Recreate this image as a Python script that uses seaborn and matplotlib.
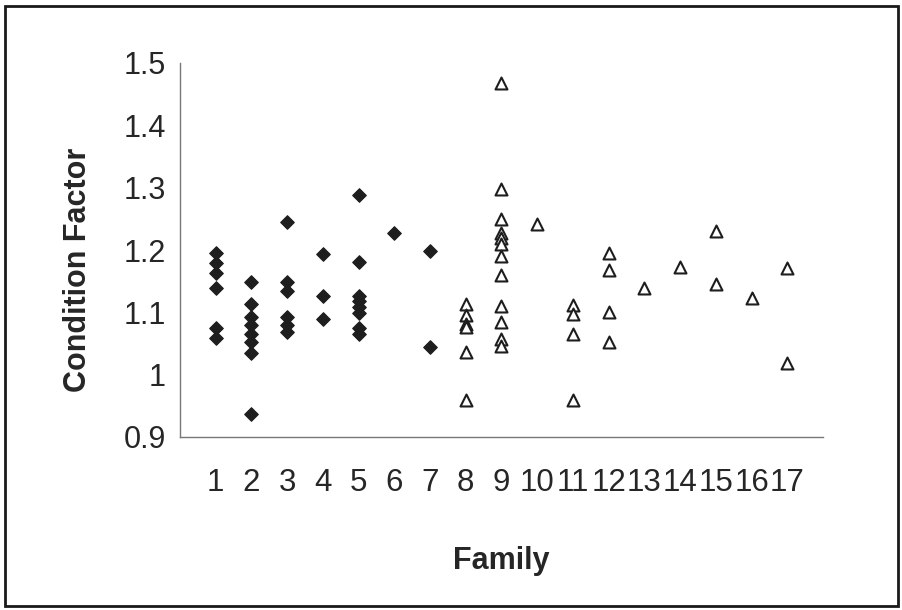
import matplotlib
matplotlib.use('Agg')
import matplotlib.pyplot as plt
import pandas as pd
import seaborn as sns
from matplotlib.patches import Rectangle

# condition factor per family
diamond_families = [1, 2, 3, 4, 5, 6, 7]
diamond_values = [
    [1.195, 1.179, 1.163, 1.139, 1.075, 1.059],
    [1.149, 1.113, 1.092, 1.079, 1.066, 1.052, 1.034, 0.937],
    [1.245, 1.149, 1.135, 1.092, 1.079, 1.068],
    [1.193, 1.126, 1.090],
    [1.288, 1.181, 1.127, 1.118, 1.108, 1.099, 1.075, 1.065],
    [1.228],
    [1.199, 1.045],
]
triangle_families = [8, 9, 10, 11, 12, 13, 14, 15, 16, 17]
triangle_values = [
    [1.114, 1.095, 1.082, 1.076, 1.036, 0.959],
    [1.468, 1.298, 1.249, 1.228, 1.219, 1.210, 1.191, 1.160, 1.110, 1.085, 1.058, 1.046],
    [1.241],
    [1.112, 1.098, 1.066, 0.960],
    [1.195, 1.168, 1.100, 1.052],
    [1.139],
    [1.173],
    [1.230, 1.145],
    [1.123],
    [1.171, 1.019],
]
family_ticks = list(range(1, 18))
y_ticks = [0.9, 1.0, 1.1, 1.2, 1.3, 1.4, 1.5]
y_tick_labels = ['0.9', '1', '1.1', '1.2', '1.3', '1.4', '1.5']


def to_frame(families, values):
    rows = [(f, v) for f, vals in zip(families, values) for v in vals]
    return pd.DataFrame(rows, columns=['Family', 'Condition Factor'])


diamonds = to_frame(diamond_families, diamond_values)
triangles = to_frame(triangle_families, triangle_values)

sns.set_style('white')
plt.rcParams['font.family'] = ['Liberation Sans', 'DejaVu Sans']

fig = plt.figure(figsize=(9.03, 6.10), dpi=100)
ax = fig.add_axes([180 / 903, 1 - 437 / 610, 643 / 903, 374 / 610])

sns.scatterplot(ax=ax, data=diamonds, x='Family', y='Condition Factor',
                marker='D', s=48, color='#1e1e1e', edgecolor='#1e1e1e', linewidth=0.8)
sns.scatterplot(ax=ax, data=triangles, x='Family', y='Condition Factor',
                marker='^', s=74, color='white', edgecolor='#1e1e1e', linewidth=1.5)

ax.set_xlim(0, 18)
ax.set_ylim(0.9, 1.5)
ax.set_xticks(family_ticks)
ax.set_xticklabels([str(f) for f in family_ticks], fontsize=22.5)
ax.set_yticks(y_ticks)
ax.set_yticklabels(y_tick_labels, fontsize=22)
ax.tick_params(axis='x', length=0, pad=22)
ax.tick_params(axis='y', length=0, pad=10)

for side in ['top', 'right']:
    ax.spines[side].set_visible(False)
for side in ['left', 'bottom']:
    ax.spines[side].set_color('#777777')
    ax.spines[side].set_linewidth(1.0)

ax.set_xlabel('Family', fontsize=22, fontweight='bold')
ax.set_ylabel('Condition Factor', fontsize=22, fontweight='bold')
ax.xaxis.label.set_va('center')
ax.yaxis.label.set_va('center')
ax.yaxis.label.set_ha('center')
ax.xaxis.set_label_coords(0.5, (437 - 561) / 374)
ax.yaxis.set_label_coords((78 - 180) / 643, (437 - 270) / 374)

# frame around the whole chart area
fig.patches.append(Rectangle((5 / 903, 4 / 610), 893 / 903, 600 / 610,
                             transform=fig.transFigure, fill=False,
                             edgecolor='#1a1a1a', linewidth=2.0))

fig.savefig('out.png', dpi=100)
